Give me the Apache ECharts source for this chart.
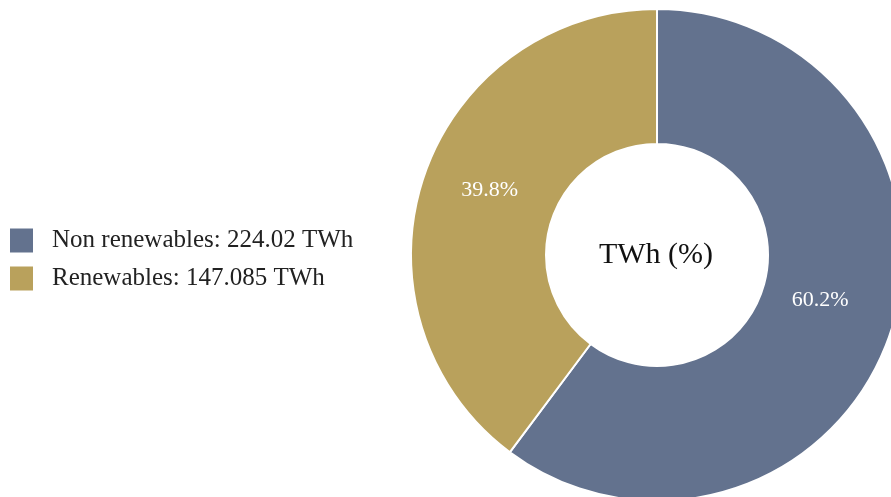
<!DOCTYPE html>
<html>
<head>
<meta charset="utf-8">
<script src="https://cdn.jsdelivr.net/npm/echarts@6/dist/echarts.min.js"></script>
<style>
  html, body { margin: 0; padding: 0; background: #fff; }
  #chart { width: 891px; height: 497px; }
</style>
</head>
<body>
<div id="chart"></div>
<script>
// energy mix, TWh and share (%)
const names = ['Non renewables', 'Renewables']
const twh = [224.02, 147.085]
const shares = [60.2, 39.8]
const colors = ['#63728e', '#b9a15c']

const chart = echarts.init(document.getElementById('chart'))
const font = '"Liberation Serif", serif'
// small nudges so labels sit where the original put them
const labelOffsets = [[-9, -12], [5, -8]]

const option = {
  color: colors,
  textStyle: { fontFamily: font },
  legend: {
    orient: 'vertical',
    left: 10,
    top: 228,
    padding: 0,
    itemWidth: 23,
    itemHeight: 24,
    itemGap: 13,
    icon: 'rect',
    itemStyle: { borderWidth: 0 },
    textStyle: { fontFamily: font, fontSize: 25, color: '#222', padding: [0, 0, 0, 14] },
    formatter: function (name) {
      const i = names.indexOf(name)
      return name + ': ' + twh[i] + ' TWh'
    }
  },
  graphic: [{
    type: 'text',
    x: 656,
    y: 255,
    style: {
      text: 'TWh (%)',
      align: 'center',
      verticalAlign: 'middle',
      font: '30px "Liberation Serif", serif',
      fill: '#111'
    }
  }],
  series: [{
    type: 'pie',
    center: [657, 255],
    radius: [111, 246],
    startAngle: 90,
    clockwise: true,
    avoidLabelOverlap: false,
    itemStyle: { borderColor: '#fff', borderWidth: 2 },
    label: {
      show: true,
      position: 'inside',
      color: '#fff',
      fontFamily: font,
      fontSize: 22,
      formatter: function (p) { return p.value.toFixed(1) + '%' }
    },
    labelLine: { show: false },
    emphasis: { disabled: true },
    data: names.map((n, i) => ({ name: n, value: shares[i], label: { offset: labelOffsets[i] } }))
  }]
}
chart.setOption(option)
</script>
</body>
</html>
